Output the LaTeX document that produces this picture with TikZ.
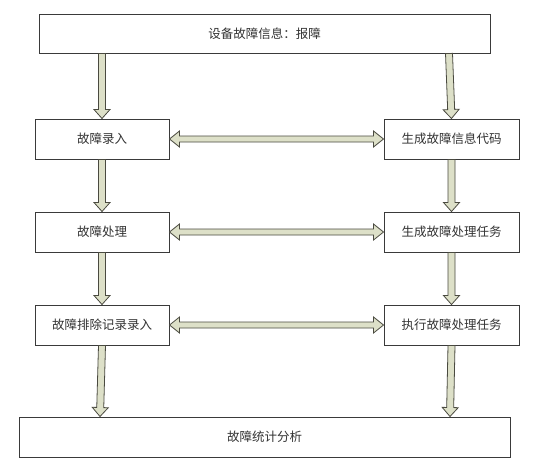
\documentclass[tikz,border=0pt]{standalone}
\usepackage{fontspec}
\newfontfamily\cjk{Noto Sans CJK SC}
\usetikzlibrary{calc}
\definecolor{arrfill}{HTML}{DDE0C8}
\definecolor{arrline}{HTML}{4A4A40}
\definecolor{boxline}{HTML}{3A3A3A}
\definecolor{txt}{HTML}{333333}
\tikzset{
  box/.style={draw=boxline, line width=1pt, fill=white, rectangle, inner sep=0pt,
    font=\cjk\fontsize{12.5}{14}\selectfont, text=txt},
  blk/.style={fill=arrfill, draw=arrline, line width=0.8pt, line join=miter},
}
% single block arrow from #1 to #2 (tip at #2)
\newcommand\blkarrow[2]{%
  \path let \p0=(0,0) in coordinate (bA) at (#1) coordinate (bB) at (#2)
    coordinate (bH) at ($(bB)!9pt!(bA)$);
  \draw[blk]
    ($(bA)!3.5pt!-90:(bB)$) -- ($(bH)!3.5pt!-90:(bB)$) -- ($(bH)!8pt!-90:(bB)$)
    -- (bB) -- ($(bH)!8pt!90:(bB)$) -- ($(bH)!3.5pt!90:(bB)$)
    -- ($(bA)!3.5pt!90:(bB)$) -- cycle;}
% double block arrow between #1 and #2
\newcommand\dblarrow[2]{%
  \path coordinate (dA) at (#1) coordinate (dB) at (#2)
    coordinate (dHA) at ($(dA)!10pt!(dB)$) coordinate (dHB) at ($(dB)!10pt!(dA)$);
  \draw[blk]
    (dA) -- ($(dHA)!8pt!-90:(dB)$) -- ($(dHA)!3pt!-90:(dB)$)
    -- ($(dHB)!3pt!90:(dA)$) -- ($(dHB)!8pt!90:(dA)$) -- (dB)
    -- ($(dHB)!8pt!-90:(dA)$) -- ($(dHB)!3pt!-90:(dA)$)
    -- ($(dHA)!3pt!90:(dB)$) -- ($(dHA)!8pt!90:(dB)$) -- cycle;}
\begin{document}
\begin{tikzpicture}[x=1pt,y=-1pt]
\useasboundingbox (0,0) rectangle (553,472);
\fill[white] (0,0) rectangle (553,472);
\node[box, minimum width=451pt, minimum height=39pt] (top) at (264.5,33.5) {设备故障信息：报障};
\node[box, minimum width=134pt, minimum height=40pt] (l1) at (102,139) {故障录入};
\node[box, minimum width=134pt, minimum height=40pt] (l2) at (102,232) {故障处理};
\node[box, minimum width=134pt, minimum height=40pt] (l3) at (102,325) {故障排除记录录入};
\node[box, minimum width=135pt, minimum height=40pt] (r1) at (451.5,139) {生成故障信息代码};
\node[box, minimum width=135pt, minimum height=40pt] (r2) at (451.5,232) {生成故障处理任务};
\node[box, minimum width=135pt, minimum height=40pt] (r3) at (451.5,325) {执行故障处理任务};
\node[box, minimum width=491pt, minimum height=40pt] (bot) at (264.5,437) {故障统计分析};
% vertical arrows
\blkarrow{top.south -| l1}{l1.north}
\blkarrow{$(top.south -| r1)+(-2.5,0)$}{r1.north}
\blkarrow{l1.south}{l2.north}
\blkarrow{r1.south}{r2.north}
\blkarrow{l2.south}{l3.north}
\blkarrow{r2.south}{r3.north}
\blkarrow{l3.south}{$(bot.north -| l3)+(-2,0)$}
\blkarrow{r3.south}{$(bot.north -| r3)+(-1.5,0)$}
% horizontal double arrows
\dblarrow{l1.east}{r1.west}
\dblarrow{l2.east}{r2.west}
\dblarrow{l3.east}{r3.west}
\end{tikzpicture}
\end{document}
